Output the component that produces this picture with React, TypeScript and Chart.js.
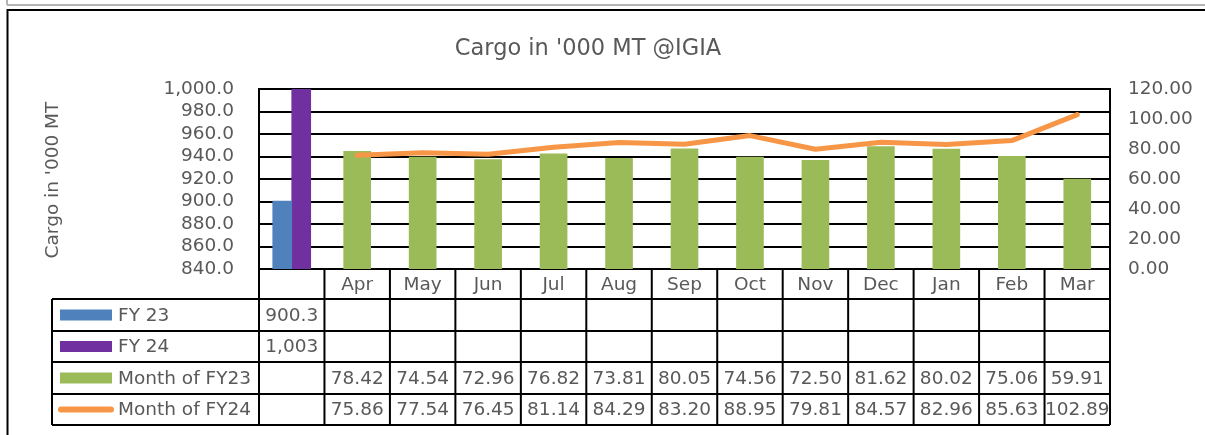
import { useEffect, useRef } from 'react';
import { Chart, registerables } from 'chart.js';

Chart.register(...registerables);

const categories = ['', 'Apr', 'May', 'Jun', 'Jul', 'Aug', 'Sep', 'Oct', 'Nov', 'Dec', 'Jan', 'Feb', 'Mar'];
const fy23Values = [900.3, null, null, null, null, null, null, null, null, null, null, null, null];
const fy24Values = [1003, null, null, null, null, null, null, null, null, null, null, null, null];
const monthFY23 = [null, 78.42, 74.54, 72.96, 76.82, 73.81, 80.05, 74.56, 72.5, 81.62, 80.02, 75.06, 59.91];
const monthFY24 = [null, 75.86, 77.54, 76.45, 81.14, 84.29, 83.2, 88.95, 79.81, 84.57, 82.96, 85.63, 102.89];

const seriesNames = ['FY 23', 'FY 24', 'Month of FY23', 'Month of FY24'];
const seriesColors = ['#4F81BD', '#7030A0', '#9BBB59', '#F79646'];
const titleText = "Cargo in '000 MT @IGIA";
const yTitleText = "Cargo in '000 MT";

const FONT = 'DejaVu Sans';
const TEXT = '#595959';

function fmtTotal(v: number | null) {
  if (v === null) return '';
  return Number.isInteger(v) ? v.toLocaleString('en-US') : v.toFixed(1);
}
function fmtMonth(v: number | null) {
  return v === null ? '' : v.toFixed(2);
}

const decorPlugin = {
  id: 'decor',
  beforeDraw(chart: any) {
    const ctx = chart.ctx;
    ctx.save();
    ctx.fillStyle = '#fff';
    ctx.fillRect(0, 0, chart.width, chart.height);
    // outer frames
    ctx.strokeStyle = '#b4b4b4';
    ctx.lineWidth = 2;
    ctx.beginPath();
    ctx.moveTo(7, 0);
    ctx.lineTo(7, 5);
    ctx.moveTo(7, 5);
    ctx.lineTo(chart.width, 5);
    ctx.stroke();
    ctx.strokeStyle = '#000';
    ctx.beginPath();
    ctx.moveTo(7.5, chart.height);
    ctx.lineTo(7.5, 10);
    ctx.lineTo(chart.width, 10);
    ctx.stroke();
    ctx.restore();
  },
  afterDraw(chart: any) {
    const ctx = chart.ctx;
    const { left, right, bottom } = chart.chartArea;
    const n = categories.length;
    const w = (right - left) / n;
    const rows = [bottom, bottom + 30, bottom + 62, bottom + 93, bottom + 125, bottom + 156];
    const legendLeft = 52;
    ctx.save();
    // title
    ctx.fillStyle = TEXT;
    ctx.font = `22.5px "${FONT}"`;
    ctx.textAlign = 'center';
    ctx.textBaseline = 'middle';
    ctx.fillText(titleText, 588, 49);
    // y axis title
    ctx.save();
    ctx.translate(53, 180);
    ctx.rotate(-Math.PI / 2);
    ctx.font = `18.5px "${FONT}"`;
    ctx.fillText(yTitleText, 0, 0);
    ctx.restore();

    // table lines
    ctx.strokeStyle = '#000';
    ctx.lineWidth = 2;
    ctx.beginPath();
    for (let r = 1; r < rows.length; r++) {
      ctx.moveTo(legendLeft, rows[r]);
      ctx.lineTo(right, rows[r]);
    }
    for (let i = 0; i <= n; i++) {
      const x = left + i * w;
      ctx.moveTo(x, bottom);
      ctx.lineTo(x, rows[rows.length - 1]);
    }
    ctx.moveTo(legendLeft, rows[1]);
    ctx.lineTo(legendLeft, rows[rows.length - 1]);
    ctx.stroke();

    // header labels
    ctx.font = `18.5px "${FONT}"`;
    ctx.fillStyle = TEXT;
    ctx.textAlign = 'center';
    ctx.textBaseline = 'middle';
    categories.forEach((c, i) => {
      ctx.fillText(c, left + (i + 0.5) * w, (rows[0] + rows[1]) / 2 + 1);
    });

    const tableRows = [
      fy23Values.map(fmtTotal),
      fy24Values.map(fmtTotal),
      monthFY23.map(fmtMonth),
      monthFY24.map(fmtMonth),
    ];
    tableRows.forEach((vals, r) => {
      const cy = (rows[r + 1] + rows[r + 2]) / 2 + 1;
      vals.forEach((s, i) => {
        if (s) ctx.fillText(s, left + (i + 0.5) * w, cy);
      });
    });

    // legend keys
    ctx.textAlign = 'left';
    seriesNames.forEach((name, r) => {
      const cy = (rows[r + 1] + rows[r + 2]) / 2;
      if (r < 3) {
        ctx.fillStyle = seriesColors[r];
        ctx.fillRect(60, cy - 5.5, 52, 11);
      } else {
        ctx.strokeStyle = seriesColors[r];
        ctx.lineWidth = 6;
        ctx.lineCap = 'round';
        ctx.beginPath();
        ctx.moveTo(61, cy);
        ctx.lineTo(111, cy);
        ctx.stroke();
      }
      ctx.fillStyle = TEXT;
      ctx.fillText(name, 118, cy + 1);
    });
    ctx.restore();
  },
};

export default function App() {
  const ref = useRef<HTMLCanvasElement | null>(null);
  useEffect(() => {
    if (!ref.current) return;
    const chart = new Chart(ref.current, {
      type: 'bar',
      data: {
        labels: categories,
        datasets: [
          {
            type: 'line',
            label: seriesNames[3],
            data: monthFY24,
            yAxisID: 'y1',
            borderColor: seriesColors[3],
            backgroundColor: seriesColors[3],
            borderWidth: 5,
            pointRadius: 0,
            borderCapStyle: 'round',
            borderJoinStyle: 'round',
            tension: 0,
            order: 0,
          } as any,
          {
            type: 'bar',
            label: seriesNames[0],
            data: fy23Values,
            yAxisID: 'y',
            backgroundColor: seriesColors[0],
            barThickness: 19,
            order: 1,
          },
          {
            type: 'bar',
            label: seriesNames[1],
            data: fy24Values,
            yAxisID: 'y',
            backgroundColor: seriesColors[1],
            barThickness: 19,
            order: 1,
          },
          {
            type: 'bar',
            label: seriesNames[2],
            data: monthFY23,
            yAxisID: 'y1',
            backgroundColor: seriesColors[2],
            barThickness: 27,
            order: 1,
          },
        ],
      },
      options: {
        responsive: false,
        animation: false,
        events: [],
        datasets: { bar: { skipNull: true } } as any,
        layout: { padding: { left: 0, right: 0, top: 89, bottom: 166 } },
        plugins: { legend: { display: false }, title: { display: false }, tooltip: { enabled: false } },
        scales: {
          x: { display: false, offset: true },
          y: {
            position: 'left',
            min: 840,
            max: 1000,
            ticks: {
              stepSize: 20,
              autoSkip: false,
              padding: 25,
              color: TEXT,
              font: { family: FONT, size: 18.5 },
              callback: (v: any) =>
                Number(v).toLocaleString('en-US', { minimumFractionDigits: 1, maximumFractionDigits: 1 }),
            },
            grid: { color: '#000', lineWidth: 2, drawTicks: false },
            border: { display: true, color: '#000', width: 2 },
            afterFit: (s: any) => {
              s.width = 259;
            },
          },
          y1: {
            position: 'right',
            min: 0,
            max: 120,
            ticks: {
              stepSize: 20,
              autoSkip: false,
              padding: 18,
              color: TEXT,
              font: { family: FONT, size: 18.5 },
              callback: (v: any) => Number(v).toFixed(2),
            },
            grid: { display: false, drawTicks: false },
            border: { display: true, color: '#000', width: 2 },
            afterFit: (s: any) => {
              s.width = 95;
            },
          },
        },
      } as any,
      plugins: [decorPlugin],
    });
    return () => chart.destroy();
  }, []);
  return (
    <div style={{ position: 'fixed', left: 0, top: 0, width: 1205, height: 435, background: '#fff' }}>
      <canvas ref={ref} width={1205} height={435} style={{ display: 'block', width: 1205, height: 435 }} />
    </div>
  );
}
